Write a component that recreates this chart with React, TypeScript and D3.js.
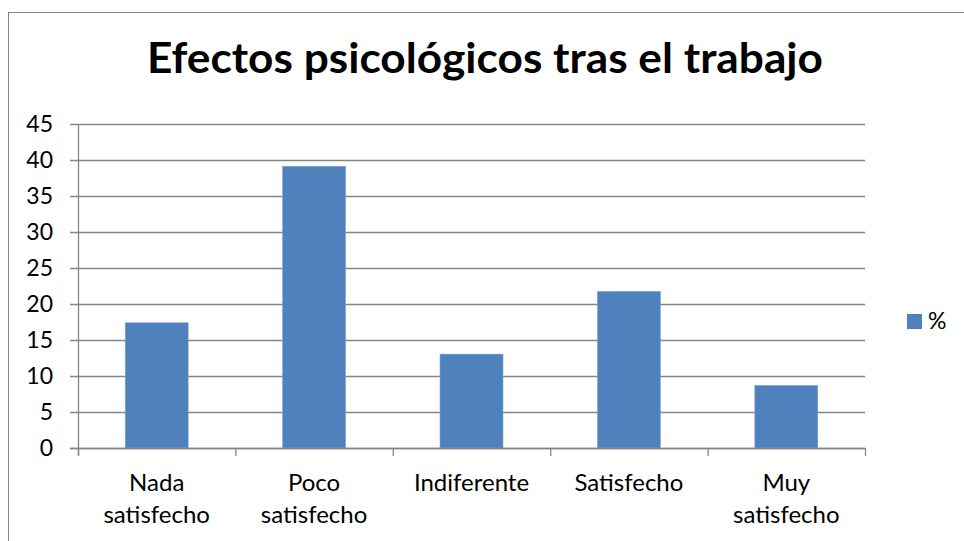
import React from 'react';
import * as d3 from 'd3';

// Data (percentages, 23 respondents)
const categories = [
  ['Nada', 'satisfecho'],
  ['Poco', 'satisfecho'],
  ['Indiferente'],
  ['Satisfecho'],
  ['Muy', 'satisfecho'],
];
const values = [17.39, 39.13, 13.04, 21.74, 8.7];
const yTicks = [0, 5, 10, 15, 20, 25, 30, 35, 40, 45];
const seriesName = '%';
const title = 'Efectos psicológicos tras el trabajo';

const W = 964;
const H = 541;
const FONT = 'Lato, "Open Sans", sans-serif';
const BAR = '#4F81BD';
const GRID = '#868686';

const App = () => {
  const y = d3.scaleLinear().domain([0, 45]).range([448, 124]);
  const x = d3
    .scaleBand<number>()
    .domain(d3.range(values.length))
    .range([78, 865])
    .paddingInner(0.6)
    .paddingOuter(0.3);

  const step = x.step();
  const left = x.range()[0];
  const right = x.range()[1];
  const boundaries = d3.range(values.length + 1).map(i => left + i * step);

  return (
    <svg
      width={W}
      height={H}
      style={{ position: 'absolute', left: 0, top: 0, background: '#fff' }}
      fontFamily={FONT}
    >
      {/* chart area border (right / bottom sides fall outside the image) */}
      <rect x={8.5} y={12.5} width={2000} height={2000} fill="#fff" stroke={GRID} strokeWidth={1} />

      <text
        x={485}
        y={73}
        textAnchor="middle"
        fontSize={42}
        fontWeight="bold"
        textLength={676}
        lengthAdjust="spacingAndGlyphs"
        fill="#000"
      >
        {title}
      </text>

      {/* gridlines + y ticks */}
      {yTicks.map(t => (
        <g key={t}>
          <line x1={70} x2={right} y1={Math.round(y(t)) + 0.5} y2={Math.round(y(t)) + 0.5} stroke={GRID} strokeWidth={1.3} />
          <text x={53} y={y(t)} dy="0.36em" textAnchor="end" fontSize={23} fill="#000">
            {t}
          </text>
        </g>
      ))}

      {/* bars */}
      {values.map((v, i) => (
        <rect
          key={i}
          x={x(i)}
          y={y(v)}
          width={x.bandwidth()}
          height={y(0) - y(v)}
          fill={BAR}
          stroke="#7FA3D0"
          strokeWidth={0.6}
        />
      ))}

      {/* axes */}
      <line x1={left + 0.5} x2={left + 0.5} y1={y(45)} y2={y(0) + 8} stroke={GRID} strokeWidth={1.3} />
      <line x1={70} x2={right} y1={y(0) + 0.5} y2={y(0) + 0.5} stroke={GRID} strokeWidth={1.3} />
      {boundaries.map((b, i) => (
        <line key={i} x1={b + 0.5} x2={b + 0.5} y1={y(0)} y2={y(0) + 8} stroke={GRID} strokeWidth={1.3} />
      ))}

      {/* category labels */}
      {categories.map((lines, i) => (
        <text key={i} textAnchor="middle" fontSize={24} fill="#000">
          {lines.map((l, j) => (
            <tspan key={j} x={(x(i) as number) + x.bandwidth() / 2} y={491 + j * 32}>
              {l}
            </tspan>
          ))}
        </text>
      ))}

      {/* legend */}
      <rect x={907} y={314} width={15} height={15} fill={BAR} />
      <text x={928} y={329} fontSize={23} fill="#000">
        {seriesName}
      </text>
    </svg>
  );
};

export default App;
